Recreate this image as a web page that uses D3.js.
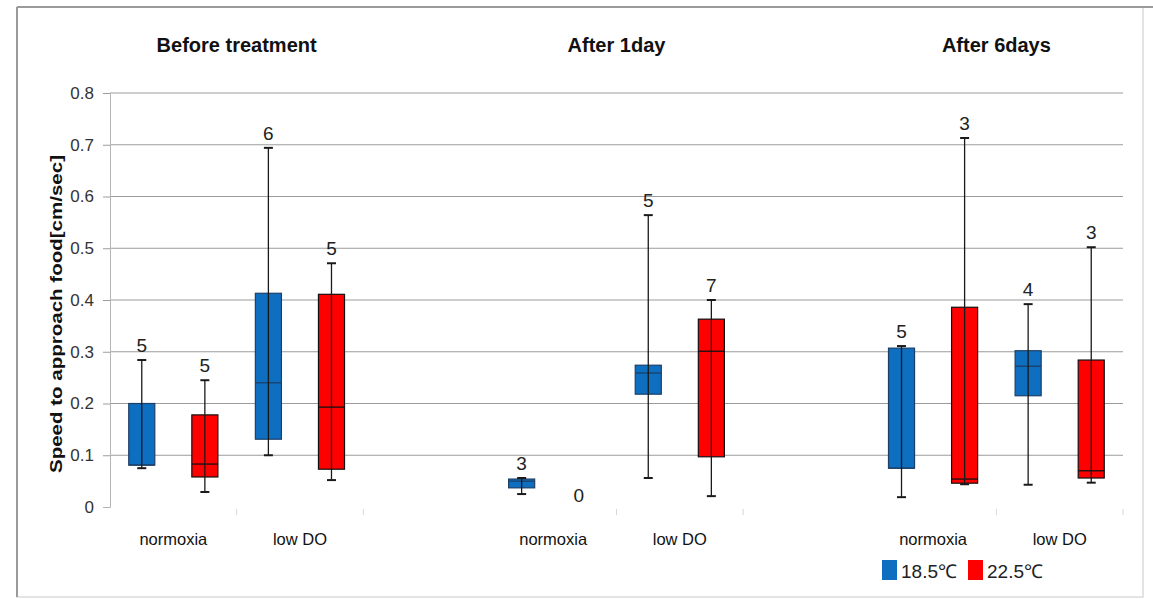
<!DOCTYPE html>
<html>
<head>
<meta charset="utf-8">
<script src="https://cdn.jsdelivr.net/npm/d3@7/dist/d3.min.js"></script>
<style>
  html, body { margin: 0; padding: 0; background: #fff; }
  svg { display: block; font-family: "Liberation Sans", Arial, sans-serif; }
</style>
</head>
<body>
<svg id="chart" width="1153" height="599"></svg>
<script>
// ---- data ----
const periods = ["Before treatment", "After 1day", "After 6days"];
const conditions = ["normoxia", "low DO"];
const temps = ["18.5℃", "22.5℃"];
const yTicks = [0, 0.1, 0.2, 0.3, 0.4, 0.5, 0.6, 0.7, 0.8];
const tickLabels = ["0", "0.1", "0.2", "0.3", "0.4", "0.5", "0.6", "0.7", "0.8"];

// one entry per box, order: period, condition, temperature
const boxPeriod    = ["Before treatment","Before treatment","Before treatment","Before treatment",
                      "After 1day","After 1day","After 1day","After 1day",
                      "After 6days","After 6days","After 6days","After 6days"];
const boxCondition = ["normoxia","normoxia","low DO","low DO",
                      "normoxia","normoxia","low DO","low DO",
                      "normoxia","normoxia","low DO","low DO"];
const boxTemp      = ["18.5℃","22.5℃","18.5℃","22.5℃",
                      "18.5℃","22.5℃","18.5℃","22.5℃",
                      "18.5℃","22.5℃","18.5℃","22.5℃"];
const whiskerLow   = [0.075, 0.029, 0.100, 0.052, 0.025, null, 0.056, 0.021, 0.019, 0.044, 0.043, 0.047];
const q1Values     = [0.081, 0.058, 0.131, 0.073, 0.037, null, 0.218, 0.097, 0.075, 0.046, 0.215, 0.056];
const medianValues = [0.081, 0.083, 0.240, 0.193, 0.050, null, 0.259, 0.301, 0.075, 0.054, 0.272, 0.070];
const q3Values     = [0.200, 0.178, 0.413, 0.411, 0.054, null, 0.274, 0.363, 0.307, 0.386, 0.302, 0.284];
const whiskerHigh  = [0.284, 0.245, 0.694, 0.471, 0.056, null, 0.564, 0.400, 0.311, 0.713, 0.392, 0.502];
const counts       = [5, 5, 6, 5, 3, 0, 5, 7, 5, 3, 4, 3];

const fillColors = {"18.5℃": "#0e6fc1", "22.5℃": "#ff0000"};
const strokeColors = {"18.5℃": "#1d3f66", "22.5℃": "#111111"};

const boxes = boxPeriod.map((p, i) => ({
  period: p, condition: boxCondition[i], temp: boxTemp[i],
  lo: whiskerLow[i], q1: q1Values[i], med: medianValues[i], q3: q3Values[i], hi: whiskerHigh[i], n: counts[i]
}));

// ---- layout ----
const svg = d3.select("#chart");
const plot = {left: 110, right: 1123, top: 93, bottom: 507};

const y = d3.scaleLinear().domain([0, 0.8]).range([plot.bottom, plot.top]);
const xPeriod = d3.scaleBand().domain(periods).range([plot.left, plot.right]).paddingInner(1/3).paddingOuter(0);
const xCond = d3.scaleBand().domain(conditions).range([0, xPeriod.bandwidth()]).padding(0);
const xTemp = d3.scaleBand().domain(temps).range([0, xCond.bandwidth()]).paddingInner(0.587).paddingOuter(0.297);

// outer border
svg.append("rect").attr("x", 17).attr("y", 7).attr("width", 1126).attr("height", 590)
  .attr("fill", "none").attr("stroke", "#c8c8c8").attr("stroke-width", 1);
svg.append("line").attr("x1", 17).attr("x2", 1153).attr("y1", 7).attr("y2", 7)
  .attr("stroke", "#9a9a9a").attr("stroke-width", 2);
svg.append("line").attr("x1", 17).attr("x2", 17).attr("y1", 7).attr("y2", 597)
  .attr("stroke", "#9a9a9a").attr("stroke-width", 2);

// gridlines
svg.append("g").selectAll("line").data(yTicks.filter(d => d > 0)).join("line")
  .attr("x1", plot.left).attr("x2", plot.right)
  .attr("y1", d => y(d)).attr("y2", d => y(d))
  .attr("stroke", "#9c9c9c").attr("stroke-width", 1);

// y axis
const yAxis = d3.axisLeft(y).tickValues(yTicks).tickSize(7).tickPadding(9)
  .tickFormat((d, i) => tickLabels[i]);
const gy = svg.append("g").attr("transform", `translate(${plot.left},0)`).call(yAxis);
gy.select(".domain").attr("stroke", "#b5b5b5");
gy.selectAll(".tick line").attr("stroke", "#9c9c9c").attr("stroke-width", 1);
gy.selectAll(".tick line").filter(d => d === 0).attr("stroke", "none");
gy.selectAll(".tick text").attr("font-size", 17).attr("fill", "#333").attr("font-family", '"Liberation Sans", Arial, sans-serif');

// faint x axis ticks at slot boundaries
const bounds = [];
periods.forEach(p => {
  bounds.push(xPeriod(p) + xCond("low DO"));
  bounds.push(xPeriod(p) + xPeriod.bandwidth());
});
svg.append("g").selectAll("line").data(bounds).join("line")
  .attr("x1", d => d).attr("x2", d => d)
  .attr("y1", plot.bottom + 2).attr("y2", plot.bottom + 8)
  .attr("stroke", "#d6d6d6").attr("stroke-width", 1);

// y axis title
svg.append("text")
  .attr("transform", `translate(62,${(plot.top + plot.bottom) / 2 + 14}) rotate(-90)`)
  .attr("text-anchor", "middle").attr("font-size", 16).attr("font-weight", "bold").attr("fill", "#111")
  .attr("textLength", 318).attr("lengthAdjust", "spacingAndGlyphs")
  .text("Speed to approach food[cm/sec]");

// period titles
svg.append("g").selectAll("text").data(periods).join("text")
  .attr("x", d => xPeriod(d) + xPeriod.bandwidth() / 2).attr("y", 52)
  .attr("text-anchor", "middle").attr("font-size", 20).attr("font-weight", "bold").attr("fill", "#111")
  .text(d => d);

// condition labels
const condLabels = [];
periods.forEach(p => conditions.forEach(c => condLabels.push({p, c})));
svg.append("g").selectAll("text").data(condLabels).join("text")
  .attr("x", d => xPeriod(d.p) + xCond(d.c) + xCond.bandwidth() / 2).attr("y", 545)
  .attr("text-anchor", "middle").attr("font-size", 16.5).attr("fill", "#111")
  .text(d => d.c);

// boxes
const bx = d => xPeriod(d.period) + xCond(d.condition) + xTemp(d.temp);
const bw = xTemp.bandwidth();
const cap = 9;
const drawn = boxes.filter(d => d.n > 0);
const g = svg.append("g");

g.selectAll("rect.box").data(drawn).join("rect").attr("class", "box")
  .attr("x", d => bx(d)).attr("width", bw)
  .attr("y", d => y(d.q3)).attr("height", d => y(d.q1) - y(d.q3))
  .attr("fill", d => fillColors[d.temp]).attr("stroke", d => strokeColors[d.temp]).attr("stroke-width", 1.2);

g.selectAll("line.med").data(drawn).join("line").attr("class", "med")
  .attr("x1", d => bx(d)).attr("x2", d => bx(d) + bw)
  .attr("y1", d => y(d.med)).attr("y2", d => y(d.med))
  .attr("stroke", d => strokeColors[d.temp]).attr("stroke-width", 1.3);

g.selectAll("line.whisk").data(drawn).join("line").attr("class", "whisk")
  .attr("x1", d => bx(d) + bw / 2).attr("x2", d => bx(d) + bw / 2)
  .attr("y1", d => y(d.lo)).attr("y2", d => y(d.hi))
  .attr("stroke", "#1a1a1a").attr("stroke-width", 1.3);

["lo", "hi"].forEach(k => {
  g.selectAll("line.cap-" + k).data(drawn).join("line").attr("class", "cap-" + k)
    .attr("x1", d => bx(d) + bw / 2 - cap / 2).attr("x2", d => bx(d) + bw / 2 + cap / 2)
    .attr("y1", d => y(d[k])).attr("y2", d => y(d[k]))
    .attr("stroke", "#1a1a1a").attr("stroke-width", 2);
});

// count labels
g.selectAll("text.n").data(boxes).join("text").attr("class", "n")
  .attr("x", d => bx(d) + bw / 2 - (d.n > 0 ? 0 : 6))
  .attr("y", d => d.n > 0 ? y(d.hi) - 8 : y(0) - 5)
  .attr("text-anchor", "middle").attr("font-size", 19).attr("fill", "#222")
  .text(d => d.n);

// legend
const legend = svg.append("g");
const legX = [882, 968];
temps.forEach((t, i) => {
  legend.append("rect").attr("x", legX[i]).attr("y", 560).attr("width", 15).attr("height", 20)
    .attr("fill", fillColors[t]);
  legend.append("text").attr("x", legX[i] + 19).attr("y", 578)
    .attr("font-size", 19).attr("fill", "#222").text(t);
});
</script>
</body>
</html>
